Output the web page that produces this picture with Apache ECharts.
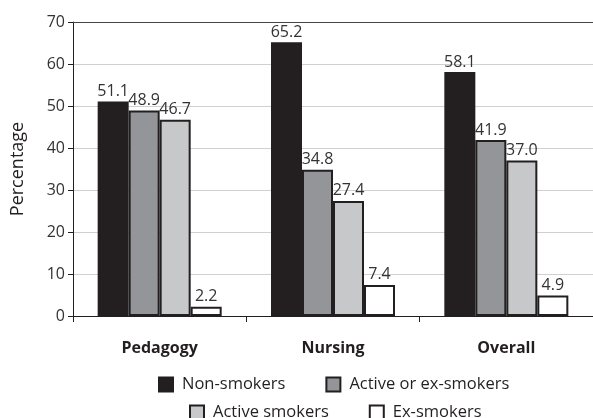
<!DOCTYPE html>
<html><head><meta charset="utf-8">
<script src="https://cdn.jsdelivr.net/npm/echarts@6/dist/echarts.min.js"></script>
<style>html,body{margin:0;padding:0;background:#fff}#c{width:593px;height:418px}</style>
</head><body><div id="c"></div>
<script>
const categories = ['Pedagogy', 'Nursing', 'Overall'];
const nonSmokers = [51.1, 65.2, 58.1];
const activeOrEx = [48.9, 34.8, 41.9];
const activeSmokers = [46.7, 27.4, 37.0];
const exSmokers = [2.2, 7.4, 4.9];
const yTicks = [0, 10, 20, 30, 40, 50, 60, 70];

const FONT = 'Open Sans';
const TXT = '#231f20';
const seriesDefs = [
  { name: 'Non-smokers', data: nonSmokers, color: '#231f20' },
  { name: 'Active or ex-smokers', data: activeOrEx, color: '#939598' },
  { name: 'Active smokers', data: activeSmokers, color: '#c7c8ca' },
  { name: 'Ex-smokers', data: exSmokers, color: '#ffffff' }
];

const chart = echarts.init(document.getElementById('c'), null, { renderer: 'canvas' });
chart.setOption({
  animation: false,
  textStyle: { fontFamily: FONT },
  grid: { left: 73, top: 22, right: -2, bottom: 102 },
  legend: [
    { data: ['Non-smokers', 'Active or ex-smokers'], left: 153, top: 371, itemWidth: 14, itemHeight: 14, itemGap: 40,
      icon: 'rect', itemStyle: { borderColor: TXT, borderWidth: 2 },
      textStyle: { fontFamily: FONT, fontSize: 16.5, color: TXT, padding: [0, 0, 0, 4] } },
    { data: ['Active smokers', 'Ex-smokers'], left: 184, top: 399, itemWidth: 14, itemHeight: 14, itemGap: 40,
      icon: 'rect', itemStyle: { borderColor: TXT, borderWidth: 2 },
      textStyle: { fontFamily: FONT, fontSize: 16.5, color: TXT, padding: [0, 0, 0, 4] } }
  ],
  xAxis: [
    { type: 'category', data: categories, position: 'bottom',
      axisLine: { lineStyle: { color: TXT, width: 1 } },
      axisTick: { show: true, length: 6, lineStyle: { color: TXT } },
      axisLabel: { fontFamily: FONT, fontSize: 16, fontWeight: 'bold', color: TXT, margin: 24 } },
    { type: 'category', data: categories, position: 'top',
      axisLine: { lineStyle: { color: '#444', width: 1 } },
      axisTick: { show: false }, axisLabel: { show: false } }
  ],
  yAxis: {
    type: 'value', min: yTicks[0], max: yTicks[yTicks.length - 1], interval: 10,
    name: 'Percentage', nameLocation: 'middle', nameGap: 46, nameRotate: 90,
    nameTextStyle: { fontFamily: FONT, fontSize: 18, color: TXT },
    axisLine: { show: true, lineStyle: { color: TXT, width: 1 } },
    axisTick: { show: true, length: 5, lineStyle: { color: TXT } },
    axisLabel: { fontFamily: FONT, fontSize: 16, color: '#333', margin: 8 },
    splitLine: { lineStyle: { color: '#d0d0d0', width: 1 } }
  },
  series: seriesDefs.map(s => ({
    name: s.name, type: 'bar', data: s.data, barWidth: 31, barGap: '0%',
    itemStyle: { color: s.color, borderColor: TXT, borderWidth: 2 },
    label: { show: true, position: 'top', distance: 2, formatter: p => p.value.toFixed(1),
      fontFamily: FONT, fontSize: 16, color: '#333' }
  }))
});
</script></body></html>
